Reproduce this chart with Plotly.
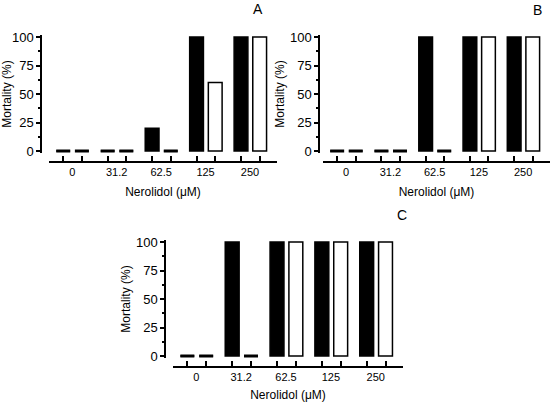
import plotly.graph_objects as go

# Nerolidol doses and mortality (%) per panel: black bars / white bars
doses = ['0', '31.2', '62.5', '125', '250']
a_black = [0, 0, 20, 100, 100]
a_white = [0, 0, 0, 60, 100]
b_black = [0, 0, 100, 100, 100]
b_white = [0, 0, 0, 100, 100]
c_black = [0, 100, 100, 100, 100]
c_white = [0, 0, 100, 100, 100]

W, H = 550, 402
off = 0.21
bw = 0.31
idx = list(range(len(doses)))
xb = [i - off for i in idx]
xw = [i + off for i in idx]
xrange = [-0.53, 4.6]

# pixel boxes for each panel: (x line start, x line end, y axis x, y of 100, y of 0, x axis y)
panels = [
    ('', a_black, a_white, (49, 277, 41, 37, 151, 162), 'A', (258, 9)),
    ('2', b_black, b_white, (323, 550, 319, 37, 151, 162), 'B', (537, 10)),
    ('3', c_black, c_white, (173, 403, 165, 242, 356, 367), 'C', (402, 215)),
]

fig = go.Figure()
ylo, yhi = -1.5, 101.5

for sfx, blk, wht, box, letter, lpos in panels:
    x0, x1, yx, p100, p0, xline = box
    ppu = (p0 - p100) / 100.0
    top = p100 - (yhi - 100) * ppu
    bot = p0 - ylo * ppu
    xa, ya = 'x' + sfx, 'y' + sfx
    # shift the dose label from the black-bar tick to the group centre
    shift = int(round(off * (x1 - x0) / (xrange[1] - xrange[0])))

    fig.add_trace(go.Bar(x=xb, y=blk, width=bw, xaxis=xa, yaxis=ya,
                         marker=dict(color='black', line=dict(color='black', width=1.5)),
                         showlegend=False))
    fig.add_trace(go.Bar(x=xw, y=wht, width=bw, xaxis=xa, yaxis=ya,
                         marker=dict(color='white', line=dict(color='black', width=1.5)),
                         showlegend=False))
    # zero values drawn as short dashes on the baseline
    zx = [x for x, v in zip(xb, blk) if v == 0] + [x for x, v in zip(xw, wht) if v == 0]
    fig.add_trace(go.Scatter(x=zx, y=[0] * len(zx), mode='markers', xaxis=xa, yaxis=ya,
                             cliponaxis=False, showlegend=False,
                             marker=dict(symbol='line-ew', size=10,
                                         line=dict(color='black', width=3))))

    tv = xb + xw
    tt = doses + [''] * len(doses)
    fig.update_layout(**{
        'xaxis' + sfx: dict(
            domain=[x0 / W, x1 / W], anchor='free', position=1 - xline / H,
            range=xrange, showline=True, linecolor='black', linewidth=2,
            tickmode='array', tickvals=tv, ticktext=tt,
            ticks='inside', ticklen=5, tickwidth=1.5, tickcolor='black',
            ticklabelshift=shift, automargin=False,
            tickfont=dict(size=11, color='black'), showgrid=False, zeroline=False,
            title=dict(text='Nerolidol (\u03bcM)', font=dict(size=12, color='black'), standoff=9),
        ),
        'yaxis' + sfx: dict(
            domain=[1 - bot / H, 1 - top / H], anchor='free', position=yx / W,
            range=[ylo, yhi], showline=True, linecolor='black', linewidth=1.5,
            tickmode='array', tickvals=[0, 25, 50, 75, 100], ticks='outside',
            ticklen=4, tickwidth=1.5, tickcolor='black', automargin=False,
            tickfont=dict(size=13, color='black'), showgrid=False, zeroline=False,
            minor=dict(dtick=12.5, tick0=0, ticks='outside', ticklen=2,
                       tickwidth=1.5, tickcolor='black'),
            title=dict(text='Mortality (%)', font=dict(size=12, color='black'), standoff=2),
        ),
    })
    fig.add_annotation(text=letter, x=lpos[0] / W, y=1 - lpos[1] / H, xref='paper', yref='paper',
                       xanchor='center', yanchor='middle',
                       showarrow=False, font=dict(size=14, color='black'))

fig.update_layout(
    width=W, height=H, margin=dict(l=0, r=0, t=0, b=0),
    paper_bgcolor='white', plot_bgcolor='white',
    font=dict(family='Liberation Sans, Arial, sans-serif', color='black'),
    barmode='overlay',
)

# the page body has a default 8px margin; drop it so the figure fills the window
fig.write_html('out.html', config={'displayModeBar': False},
               post_script="document.body.style.margin='0';")
